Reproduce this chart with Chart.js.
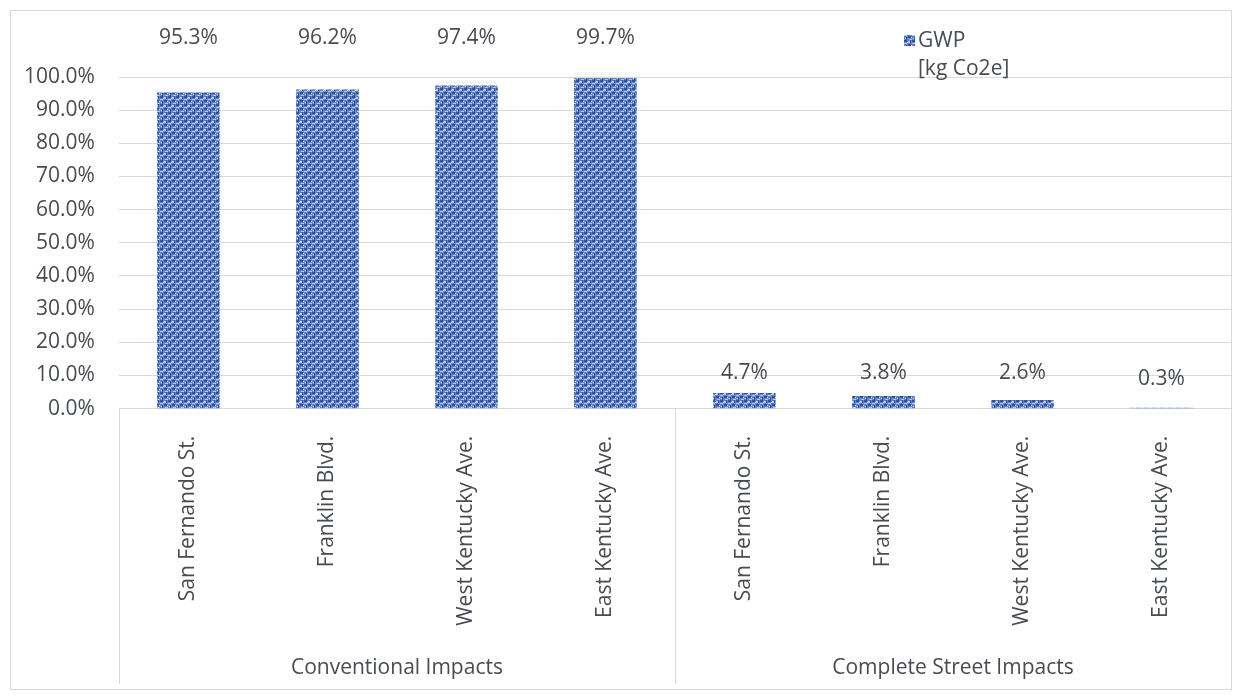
<!DOCTYPE html>
<html>
<head>
<meta charset="utf-8">
<script src="https://cdn.jsdelivr.net/npm/chart.js@4"></script>
<style>
  body { margin: 0; background: #fff; }
  #wrap { position: absolute; left: 0; top: 0; width: 1242px; height: 700px; }
  #frame { position: absolute; left: 10px; top: 10px; width: 1222px; height: 680px; border: 1px solid #d9d9d9; box-sizing: border-box; pointer-events: none; }
</style>
</head>
<body>
<div id="wrap">
  <canvas id="grafico" width="1242" height="700"></canvas>
  <div id="frame"></div>
</div>
<script>
// dados do grafico
var ruas = ['San Fernando St.', 'Franklin Blvd.', 'West Kentucky Ave.', 'East Kentucky Ave.',
            'San Fernando St.', 'Franklin Blvd.', 'West Kentucky Ave.', 'East Kentucky Ave.'];
var grupos = ['Conventional Impacts', 'Complete Street Impacts'];
var gwp = [95.3, 96.2, 97.4, 99.7, 4.7, 3.8, 2.6, 0.3];
var legenda = ['GWP', '[kg Co2e]'];

var corTexto = '#474b52';
var fonte = "'Open Sans', sans-serif";

var canvas = document.getElementById('grafico');
var ctx = canvas.getContext('2d');

// textura azul das barras (trama)
function criarTextura() {
    var c = document.createElement('canvas');
    c.width = 8; c.height = 8;
    var g = c.getContext('2d');
    g.fillStyle = '#6384c9';
    g.fillRect(0, 0, 8, 8);
    g.fillStyle = '#2f4f98';
    g.fillRect(0, 0, 3, 2);
    g.fillRect(4, 4, 3, 2);
    g.fillRect(6, 0, 1, 3);
    g.fillRect(2, 5, 1, 3);
    g.fillStyle = '#b3c7ee';
    g.fillRect(0, 3, 3, 1);
    g.fillRect(4, 1, 2, 2);
    g.fillRect(5, 7, 3, 1);
    g.fillStyle = '#e4ecfa';
    g.fillRect(3, 2, 1, 1);
    g.fillRect(7, 5, 1, 1);
    g.fillRect(1, 6, 1, 1);
    return ctx.createPattern(c, 'repeat');
}
var textura = criarTextura();

// rótulos em cima das barras, alinhados por grupo
var rotulosPlugin = {
    id: 'rotulos',
    afterDatasetsDraw: function (chart) {
        var meta = chart.getDatasetMeta(0);
        var y = chart.scales.y;
        var g = chart.ctx;
        var recuo = [40, 20];
        g.save();
        g.font = '21px ' + fonte;
        g.fillStyle = corTexto;
        g.textAlign = 'center';
        g.textBaseline = 'middle';
        for (var i = 0; i < gwp.length; i++) {
            var grupo = i < 4 ? 0 : 1;
            var fatia = gwp.slice(grupo * 4, grupo * 4 + 4);
            var topo = y.getPixelForValue(Math.max.apply(null, fatia)) - recuo[grupo];
            if (gwp[i] < 1) topo += 6;
            g.fillText(gwp[i].toFixed(1) + '%', meta.data[i].x, topo);
        }
        g.restore();
    }
};

// linhas divisórias dos grupos e legenda
var divisoriasPlugin = {
    id: 'divisorias',
    afterDraw: function (chart) {
        var x = chart.scales.x;
        var x2 = chart.scales.x2;
        var g = chart.ctx;
        var meio = (x.getPixelForValue(3) + x.getPixelForValue(4)) / 2;
        var linhas = [x.left, meio, x.right];
        g.save();
        g.strokeStyle = '#d9d9d9';
        g.lineWidth = 1;
        linhas.forEach(function (px) {
            g.beginPath();
            g.moveTo(Math.round(px) + 0.5, chart.chartArea.bottom);
            g.lineTo(Math.round(px) + 0.5, x2.bottom);
            g.stroke();
        });
        // legenda
        g.fillStyle = textura;
        g.fillRect(904, 35, 11, 11);
        g.fillStyle = corTexto;
        g.font = '21px ' + fonte;
        g.textBaseline = 'middle';
        g.textAlign = 'left';
        g.fillText(legenda[0], 918, 41);
        g.fillText(legenda[1], 918, 69);
        g.restore();
    }
};

new Chart(canvas, {
    type: 'bar',
    data: {
        labels: ruas,
        datasets: [{
            label: legenda.join(' '),
            data: gwp,
            backgroundColor: textura,
            borderWidth: 0,
            barPercentage: 0.45,
            categoryPercentage: 1
        }]
    },
    options: {
        responsive: false,
        animation: false,
        layout: { padding: { top: 77, right: 11, bottom: 16, left: 0 } },
        plugins: {
            legend: { display: false },
            tooltip: { enabled: false }
        },
        scales: {
            y: {
                min: 0,
                max: 100,
                ticks: {
                    stepSize: 10,
                    color: corTexto,
                    font: { family: fonte, size: 21 },
                    padding: 24,
                    callback: function (v) { return v.toFixed(1) + '%'; }
                },
                grid: { color: '#d9d9d9', drawTicks: false },
                border: { display: false }
            },
            x: {
                ticks: {
                    color: corTexto,
                    font: { family: fonte, size: 21 },
                    minRotation: 90,
                    maxRotation: 90,
                    autoSkip: false,
                    padding: 19
                },
                grid: { display: false },
                border: { display: false }
            },
            x2: {
                type: 'category',
                labels: grupos,
                position: 'bottom',
                offset: true,
                ticks: {
                    color: corTexto,
                    font: { family: fonte, size: 21 },
                    padding: 3
                },
                grid: { display: false },
                border: { display: false }
            }
        }
    },
    plugins: [rotulosPlugin, divisoriasPlugin]
});
</script>
</body>
</html>
